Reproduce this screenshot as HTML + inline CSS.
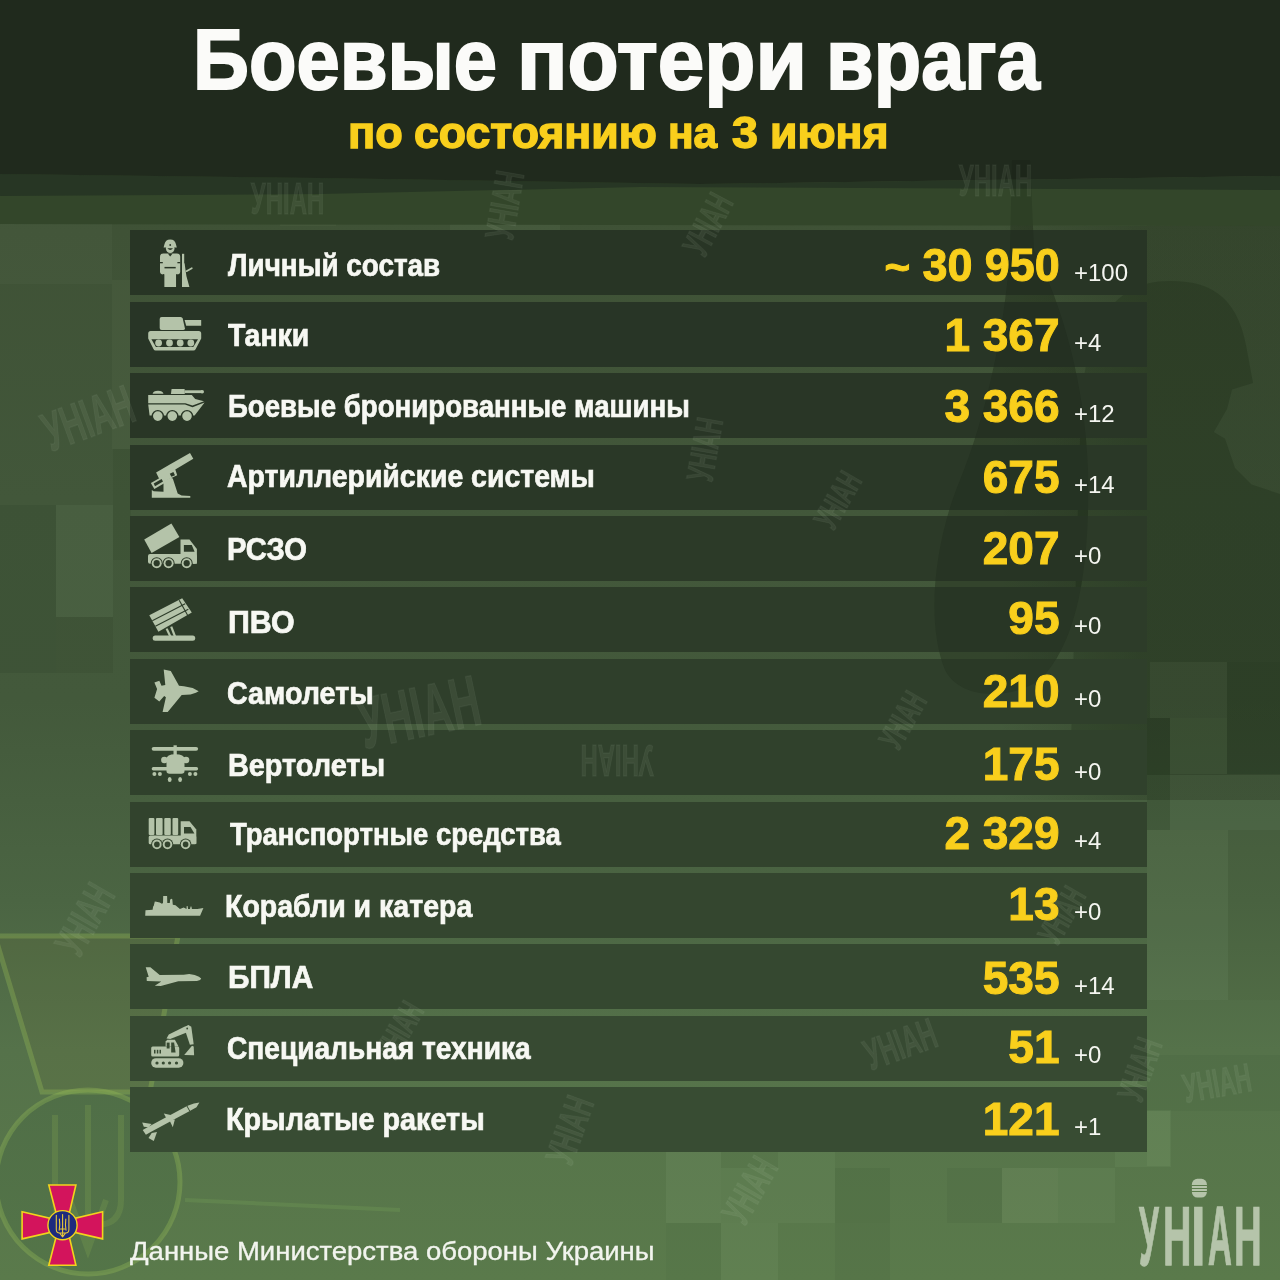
<!DOCTYPE html>
<html lang="ru"><head><meta charset="utf-8"><title>Боевые потери врага</title><style>
*{margin:0;padding:0;box-sizing:border-box}
html,body{width:1280px;height:1280px;overflow:hidden}
body{position:relative;font-family:"Liberation Sans",Arial,sans-serif;background:#4a6140;}
.abs{position:absolute}
.t{position:absolute;white-space:nowrap;line-height:1}
.lab{font-weight:bold;color:#f7f8f3;font-size:30.5px;transform-origin:0 0;-webkit-text-stroke:0.7px #f7f8f3}
.num{font-weight:bold;color:#f9cf1c;font-size:46px;transform-origin:100% 0;text-align:right;-webkit-text-stroke:1px #f9cf1c}
.del{color:#f4f5f0;font-size:24px;transform-origin:0 0}
.row{position:absolute;left:130px;width:1017px;height:65px;background:rgba(30,42,26,0.56)}
.wm{position:absolute;white-space:nowrap;line-height:1;font-weight:bold;color:rgba(220,235,210,0.07);-webkit-text-stroke:1.5px rgba(220,235,210,0.05);transform-origin:0 0}
</style></head><body>
<div class="abs" style="left:0;top:0;width:1280px;height:1280px;background:linear-gradient(to bottom,#33462c 0px,#3f5236 230px,#42573a 500px,#43593b 700px,#4b6543 900px,#55724a 1050px,#5a7a4b 1280px)"></div>
<div class="abs" style="left:1000px;top:226px;width:280px;height:574px;background:linear-gradient(to right,rgba(20,30,15,0) 0px,rgba(20,30,15,0.24) 140px,rgba(20,30,15,0.24) 280px)"></div>
<div class="abs" style="left:0px;top:505px;width:56px;height:168px;background:rgba(20,35,15,0.10)"></div>
<div class="abs" style="left:280px;top:168px;width:56px;height:58px;background:rgba(200,230,180,0.04)"></div>
<div class="abs" style="left:450px;top:160px;width:110px;height:70px;background:rgba(200,230,180,0.05)"></div>
<div class="abs" style="left:1147px;top:190px;width:133px;height:36px;background:rgba(20,30,15,0.12)"></div>
<div class="abs" style="left:56px;top:505px;width:57px;height:112px;background:rgba(200,230,180,0.05)"></div>
<div class="abs" style="left:56px;top:617px;width:57px;height:56px;background:rgba(20,35,15,0.07)"></div>
<div class="abs" style="left:113px;top:449px;width:18px;height:111px;background:rgba(20,35,15,0.08)"></div>
<div class="abs" style="left:112px;top:280px;width:18px;height:169px;background:rgba(200,230,180,0.04)"></div>
<div class="abs" style="left:0px;top:224px;width:112px;height:60px;background:rgba(200,230,180,0.03)"></div>
<div class="abs" style="left:1150px;top:662px;width:77px;height:56px;background:rgba(200,230,180,0.07)"></div>
<div class="abs" style="left:1170px;top:718px;width:57px;height:56px;background:rgba(200,230,180,0.09)"></div>
<div class="abs" style="left:1227px;top:662px;width:53px;height:112px;background:rgba(20,35,15,0.06)"></div>
<div class="abs" style="left:1147px;top:718px;width:23px;height:112px;background:rgba(20,35,15,0.12)"></div>
<div class="abs" style="left:1170px;top:774px;width:110px;height:56px;background:rgba(200,230,180,0.03)"></div>
<div class="abs" style="left:1147px;top:830px;width:81px;height:170px;background:rgba(200,230,180,0.04)"></div>
<div class="abs" style="left:1228px;top:830px;width:52px;height:170px;background:rgba(20,35,15,0.03)"></div>
<div class="abs" style="left:1147px;top:1055px;width:133px;height:56px;background:rgba(20,35,15,0.05)"></div>
<div class="abs" style="left:1147px;top:1111px;width:23px;height:55px;background:rgba(200,230,180,0.06)"></div>
<div class="abs" style="left:666px;top:1152px;width:55px;height:71px;background:rgba(200,230,180,0.07)"></div>
<div class="abs" style="left:721px;top:1168px;width:57px;height:55px;background:rgba(200,230,180,0.05)"></div>
<div class="abs" style="left:778px;top:1152px;width:57px;height:71px;background:rgba(200,230,180,0.05)"></div>
<div class="abs" style="left:835px;top:1168px;width:55px;height:55px;background:rgba(20,40,15,0.06)"></div>
<div class="abs" style="left:947px;top:1168px;width:55px;height:55px;background:rgba(20,40,15,0.05)"></div>
<div class="abs" style="left:1002px;top:1168px;width:56px;height:55px;background:rgba(200,230,180,0.08)"></div>
<div class="abs" style="left:1058px;top:1168px;width:57px;height:55px;background:rgba(200,230,180,0.05)"></div>
<div class="abs" style="left:666px;top:1223px;width:55px;height:57px;background:rgba(20,40,15,0.04)"></div>
<div class="abs" style="left:721px;top:1223px;width:57px;height:57px;background:rgba(200,230,180,0.06)"></div>
<div class="abs" style="left:835px;top:1223px;width:55px;height:57px;background:rgba(20,40,15,0.05)"></div>
<div class="abs" style="left:1115px;top:1110px;width:56px;height:57px;background:rgba(200,230,180,0.05)"></div>
<svg class="abs" style="left:0;top:0" width="1280" height="1280" viewBox="0 0 1280 1280"><path d="M1080,440 C1080,330 1110,281 1170,281 C1215,281 1240,300 1248,356 L1253,383 L1232,389.5 L1227,409 L1213.8,432 L1225,438.7 L1235,468 L1251.5,484.6 L1280,494 L1280,775 L1070,775 Z" fill="rgba(18,30,12,0.22)"/><path d="M1012,160 L1030,160 L1034,250 C1060,300 1085,380 1088,470 C1090,560 1080,640 1040,680 C1010,700 960,700 945,670 C925,620 935,540 960,480 C985,420 1005,330 1010,250 Z" fill="rgba(10,18,6,0.16)"/></svg>
<svg class="abs" style="left:0;top:0" width="400" height="1280" viewBox="0 0 400 1280"><polygon points="-5,936 178,936 150,1092 42,1092" fill="rgba(120,110,50,0.10)" stroke="rgba(160,200,90,0.30)" stroke-width="5"/><circle cx="88" cy="1182" r="92" fill="rgba(20,60,40,0.07)" stroke="rgba(160,200,90,0.30)" stroke-width="5"/><path d="M88,1105 L88,1250 M55,1115 L55,1200 Q55,1225 80,1225 L96,1225 Q121,1225 121,1200 L121,1115 M70,1200 L88,1250 L106,1200" fill="none" stroke="rgba(160,200,90,0.16)" stroke-width="6"/><path d="M185,1200 L400,1210" stroke="rgba(150,200,100,0.15)" stroke-width="4"/></svg>
<svg class="abs" style="left:0;top:0" width="1280" height="240" viewBox="0 0 1280 240"><polygon points="0,174 320,176 700,183 1280,186 1280,226 0,224" fill="#33462a"/><polygon points="0,174 320,178 700,184 1280,176 1280,190 640,187 320,194 0,196" fill="#273624"/><polygon points="0,0 1280,0 1280,176 700,184 320,178 0,174" fill="#202a1d"/></svg>
<div class="row" style="top:230.27px;background:#283525"></div>
<div class="row" style="top:301.68px;background:#283526"></div>
<div class="row" style="top:373.09px;background:#293626"></div>
<div class="row" style="top:444.50px;background:#2a3827"></div>
<div class="row" style="top:515.91px;background:#2c3a28"></div>
<div class="row" style="top:587.32px;background:#2d3c29"></div>
<div class="row" style="top:658.73px;background:#2f3f2b"></div>
<div class="row" style="top:730.14px;background:#30412c"></div>
<div class="row" style="top:801.55px;background:#32432d"></div>
<div class="row" style="top:872.96px;background:#34462f"></div>
<div class="row" style="top:944.37px;background:#354830"></div>
<div class="row" style="top:1015.78px;background:#374a32"></div>
<div class="row" style="top:1087.19px;background:#384c33"></div>
<svg class="abs" style="left:0;top:0" width="1280" height="1280" viewBox="0 0 1280 1280"><path d="M1012,160 L1030,160 L1034,250 C1060,300 1085,380 1088,470 C1090,560 1080,640 1040,680 C1010,700 960,700 945,670 C925,620 935,540 960,480 C985,420 1005,330 1010,250 Z" fill="rgba(10,18,6,0.12)"/></svg>
<div class="wm" style="left:220.7px;top:178.3px;font-size:43.5px;transform-origin:66.3px 21.7px;transform:rotate(0deg) scaleX(0.55)">УНІАН</div>
<div class="wm" style="left:443.1px;top:184.7px;font-size:40.6px;transform-origin:61.9px 20.3px;transform:rotate(-80deg) scaleX(0.55)">УНІАН</div>
<div class="wm" style="left:650.5px;top:206.2px;font-size:37.7px;transform-origin:57.5px 18.8px;transform:rotate(-62deg) scaleX(0.55)">УНІАН</div>
<div class="wm" style="left:928.7px;top:160.3px;font-size:43.5px;transform-origin:66.3px 21.7px;transform:rotate(0deg) scaleX(0.55)">УНІАН</div>
<div class="wm" style="left:4.0px;top:390.5px;font-size:55.1px;transform-origin:84.0px 27.5px;transform:rotate(-20deg) scaleX(0.55)">УНІАН</div>
<div class="wm" style="left:307.5px;top:675.8px;font-size:72.5px;transform-origin:110.5px 36.2px;transform:rotate(-12deg) scaleX(0.55)">УНІАН</div>
<div class="wm" style="left:550.7px;top:738.3px;font-size:43.5px;transform-origin:66.3px 21.7px;transform:rotate(180deg) scaleX(0.55)">УНІАН</div>
<div class="wm" style="left:647.5px;top:431.2px;font-size:37.7px;transform-origin:57.5px 18.8px;transform:rotate(-80deg) scaleX(0.55)">УНІАН</div>
<div class="wm" style="left:785.0px;top:482.6px;font-size:34.8px;transform-origin:53.0px 17.4px;transform:rotate(-60deg) scaleX(0.55)">УНІАН</div>
<div class="wm" style="left:850.0px;top:702.6px;font-size:34.8px;transform-origin:53.0px 17.4px;transform:rotate(-60deg) scaleX(0.55)">УНІАН</div>
<div class="wm" style="left:18.7px;top:898.3px;font-size:43.5px;transform-origin:66.3px 21.7px;transform:rotate(-60deg) scaleX(0.55)">УНІАН</div>
<div class="wm" style="left:1009.0px;top:897.6px;font-size:34.8px;transform-origin:53.0px 17.4px;transform:rotate(-60deg) scaleX(0.55)">УНІАН</div>
<div class="wm" style="left:1155.1px;top:1062.7px;font-size:40.6px;transform-origin:61.9px 20.3px;transform:rotate(-10deg) scaleX(0.55)">УНІАН</div>
<div class="wm" style="left:833.7px;top:1023.3px;font-size:43.5px;transform-origin:66.3px 21.7px;transform:rotate(-20deg) scaleX(0.55)">УНІАН</div>
<div class="wm" style="left:508.1px;top:1109.7px;font-size:40.6px;transform-origin:61.9px 20.3px;transform:rotate(-70deg) scaleX(0.55)">УНІАН</div>
<div class="wm" style="left:688.1px;top:1169.7px;font-size:40.6px;transform-origin:61.9px 20.3px;transform:rotate(-60deg) scaleX(0.55)">УНІАН</div>
<div class="wm" style="left:1082.5px;top:1051.2px;font-size:37.7px;transform-origin:57.5px 18.8px;transform:rotate(-70deg) scaleX(0.55)">УНІАН</div>
<div class="wm" style="left:347.0px;top:1012.6px;font-size:34.8px;transform-origin:53.0px 17.4px;transform:rotate(-60deg) scaleX(0.55)">УНІАН</div>
<div class="t lab" style="left:227.50px;top:249.68px;transform:scaleX(0.9130)">Личный состав</div>
<div class="t num" style="right:220.50px;top:242.06px;transform:scaleX(0.9755)">30 950</div>
<div class="t num" style="left:884.50px;top:245.06px;text-align:left;font-size:44px">~</div>
<div class="t del" style="left:1074px;top:261.18px">+100</div>
<div class="t lab" style="left:228.00px;top:319.68px;transform:scaleX(0.9302)">Танки</div>
<div class="t num" style="right:220.50px;top:312.06px">1 367</div>
<div class="t del" style="left:1074px;top:331.18px">+4</div>
<div class="t lab" style="left:227.69px;top:390.93px;transform:scaleX(0.9061)">Боевые бронированные машины</div>
<div class="t num" style="right:220.50px;top:382.81px">3 366</div>
<div class="t del" style="left:1074px;top:401.93px">+12</div>
<div class="t lab" style="left:226.57px;top:460.93px;transform:scaleX(0.9324)">Артиллерийские системы</div>
<div class="t num" style="right:220.50px;top:454.06px">675</div>
<div class="t del" style="left:1074px;top:473.18px">+14</div>
<div class="t lab" style="left:227.09px;top:534.43px;transform:scaleX(0.9568)">РСЗО</div>
<div class="t num" style="right:220.50px;top:525.06px">207</div>
<div class="t del" style="left:1074px;top:544.18px">+0</div>
<div class="t lab" style="left:227.51px;top:606.68px;transform:scaleX(0.9961)">ПВО</div>
<div class="t num" style="right:220.50px;top:595.06px">95</div>
<div class="t del" style="left:1074px;top:614.18px">+0</div>
<div class="t lab" style="left:226.56px;top:678.18px;transform:scaleX(0.9412)">Самолеты</div>
<div class="t num" style="right:220.50px;top:667.56px">210</div>
<div class="t del" style="left:1074px;top:686.68px">+0</div>
<div class="t lab" style="left:227.61px;top:749.93px;transform:scaleX(0.9451)">Вертолеты</div>
<div class="t num" style="right:220.50px;top:741.06px">175</div>
<div class="t del" style="left:1074px;top:760.18px">+0</div>
<div class="t lab" style="left:229.50px;top:818.68px;transform:scaleX(0.9008)">Транспортные средства</div>
<div class="t num" style="right:220.50px;top:809.81px">2 329</div>
<div class="t del" style="left:1074px;top:828.93px">+4</div>
<div class="t lab" style="left:225.13px;top:891.18px;transform:scaleX(0.9350)">Корабли и катера</div>
<div class="t num" style="right:220.50px;top:881.06px">13</div>
<div class="t del" style="left:1074px;top:900.18px">+0</div>
<div class="t lab" style="left:227.55px;top:962.18px;transform:scaleX(0.9765)">БПЛА</div>
<div class="t num" style="right:220.50px;top:954.56px">535</div>
<div class="t del" style="left:1074px;top:973.68px">+14</div>
<div class="t lab" style="left:227.33px;top:1032.93px;transform:scaleX(0.9217)">Специальная техника</div>
<div class="t num" style="right:220.50px;top:1024.06px">51</div>
<div class="t del" style="left:1074px;top:1043.18px">+0</div>
<div class="t lab" style="left:226.11px;top:1104.18px;transform:scaleX(0.9428)">Крылатые ракеты</div>
<div class="t num" style="right:220.50px;top:1096.06px">121</div>
<div class="t del" style="left:1074px;top:1115.18px">+1</div>
<div class="t" style="left:192.68px;top:15.60px;font-size:86px;font-weight:bold;-webkit-text-stroke:2.0px #fbfbf9;color:#fbfbf9;transform:scaleX(0.9042);transform-origin:0 0">Боевые</div>
<div class="t" style="left:517.13px;top:15.60px;font-size:86px;font-weight:bold;-webkit-text-stroke:2.0px #fbfbf9;color:#fbfbf9;transform:scaleX(0.9740);transform-origin:0 0">потери</div>
<div class="t" style="left:825.99px;top:15.60px;font-size:86px;font-weight:bold;-webkit-text-stroke:2.0px #fbfbf9;color:#fbfbf9;transform:scaleX(0.9026);transform-origin:0 0">врага</div>
<div class="t" style="left:347.95px;top:110.75px;font-size:44px;font-weight:bold;-webkit-text-stroke:1.4px #f9cf1c;color:#f9cf1c;transform:scaleX(1.0250);transform-origin:0 0">по</div>
<div class="t" style="left:413.99px;top:110.75px;font-size:44px;font-weight:bold;-webkit-text-stroke:1.4px #f9cf1c;color:#f9cf1c;transform:scaleX(1.0148);transform-origin:0 0">состоянию</div>
<div class="t" style="left:668.07px;top:110.75px;font-size:44px;font-weight:bold;-webkit-text-stroke:1.4px #f9cf1c;color:#f9cf1c;transform:scaleX(0.9640);transform-origin:0 0">на</div>
<div class="t" style="left:732.40px;top:110.75px;font-size:44px;font-weight:bold;-webkit-text-stroke:1.4px #f9cf1c;color:#f9cf1c;transform:scaleX(1.0583);transform-origin:0 0">3</div>
<div class="t" style="left:769.57px;top:110.75px;font-size:44px;font-weight:bold;-webkit-text-stroke:1.4px #f9cf1c;color:#f9cf1c;transform:scaleX(1.0142);transform-origin:0 0">июня</div>
<div class="t" style="left:129.50px;top:1238.19px;font-size:26.0px;-webkit-text-stroke:0.35px #f2f4ee;color:#f2f4ee;transform:scaleX(1.0574);transform-origin:0 0">Данные Министерства обороны Украины</div>
<svg class="abs" style="left:0;top:0" width="1280" height="1280" viewBox="0 0 1280 1280"><g fill="#b4c3a9">
<path d="M163.6,247.6 L164.4,244.6 Q165.2,239.4 170.2,239.4 Q175.2,239.4 176,244.6 L176.8,247.6 Z"/>
<circle cx="170.2" cy="248.6" r="4.3"/>
<rect x="160" y="253.6" width="20.2" height="20.8" rx="3.2"/>
<rect x="164.2" y="272" width="12" height="15" />
<rect x="182" y="253.8" width="2.2" height="33.2"/>
<polygon points="182,262 184.6,263.5 186.4,276 189.4,287 182,287"/>
<path d="M186.5,271.2 L191.8,268.2" stroke="#b4c3a9" stroke-width="1.7" stroke-linecap="round"/>
</g>
<g fill="#283525">
<path d="M167.4,248.2 Q170.2,251.8 173,248.2 Z"/>
<circle cx="170.2" cy="245" r="0.9"/>
<polygon points="167.8,253.6 172.6,253.6 170.2,256.4"/>
<rect x="164.5" y="266.9" width="11.2" height="1.5"/>
<rect x="160" y="262" width="2.8" height="1.3"/>
<rect x="177.4" y="262" width="2.8" height="1.3"/>
<rect x="163" y="274.2" width="1.2" height="13"/>
<rect x="176.2" y="274.2" width="1.2" height="13"/>
</g>
<g fill="#b4c3a9">
<path d="M161.6,317 L180.6,317 Q182.2,317 182.7,318.6 L184.9,328.3 Q185.2,330 183.4,330 L161.6,330 Q159.7,330 159.7,328 L159.7,319 Q159.7,317 161.6,317 Z"/>
<polygon points="184.6,320 201.2,320 201.2,325.8 186.2,325.8"/>
<path d="M150.6,331 L198.8,331 Q201.2,331 201.2,333.6 L201.2,338.6 L195.6,349.2 Q195,350.4 193.4,350.4 L155.6,350.4 Q154.2,350.4 153.6,349.2 L148.2,338.6 L148.2,333.6 Q148.2,331 150.6,331 Z"/>
</g>
<polygon points="151.4,339.3 198,339.3 193.3,347 155.9,347" fill="#283526"/>
<g fill="#b4c3a9"><circle cx="158.6" cy="343" r="3.4"/><circle cx="169.5" cy="343" r="3.4"/><circle cx="180.2" cy="343" r="3.4"/><circle cx="190.8" cy="343" r="3.4"/></g>
<g fill="#b4c3a9">
<path d="M152.6,393.8 Q153.2,390.8 158,390.8 Q162.8,390.8 163.5,393.8 Z"/>
<polygon points="171.6,389 184.6,389 184.8,394 170.9,394"/>
<rect x="184.5" y="390.3" width="17.5" height="2.8"/>
<circle cx="202.2" cy="391.7" r="1.8"/>
<polygon points="148.2,395 191.8,395 195.2,398.9 204,401.3 192.5,405.6 185.4,403.2 148.2,403.2"/>
<polygon points="148.2,404.4 185,404.4 192.5,407.2 204.6,402.6 194.6,415.6 149.6,415.6"/>
</g>
<g fill="#b4c3a9" stroke="#293626" stroke-width="1.4"><circle cx="157.8" cy="416.1" r="5.5"/><circle cx="172.3" cy="416.1" r="5.5"/><circle cx="187.0" cy="416.1" r="5.5"/></g>
<polygon points="151.8,490.1 153.7,491.2 163.5,491.7 163.5,480.8 170.6,477.8 172.8,478.6 177.7,493.4 181.6,495.6 190.3,496.1 190.3,497.8 151.8,497.8" fill="#b4c3a9"/>
<polygon points="156.1,472.6 169.8,464.4 190.0,453.0 193.3,458.7 175.3,469.6 177.2,475.3 171.4,478.1 163.5,481.4 158.9,478.3" fill="#b4c3a9"/>
<polygon points="150.9,483.0 161.9,476.7 165.2,482.7 154.3,489.0" fill="#b4c3a9"/>
<polygon points="153.7,483.5 161.6,479.1 163.0,481.6 155.0,486.3" fill="#2a3827"/>
<polygon points="169.8,473.7 173.4,472.1 175.0,475.3 171.4,476.7" fill="#2a3827"/>
<polygon points="144.2,539.4 171.4,523.5 179.4,537.1 151.6,553.0" fill="#b4c3a9"/>
<polygon points="180.5,539.4 189.5,539.4 196.9,549.0 196.9,563.7 180.5,563.7" fill="#b4c3a9"/>
<polygon points="183.9,545.0 191.8,545.0 194.6,551.8 183.9,551.8" fill="#2c3a28"/>
<rect x="148" y="554" width="48.9" height="9.7" rx="2" fill="#b4c3a9"/>
<g><circle cx="156.7" cy="563.2" r="6" fill="#2c3a28"/><circle cx="156.7" cy="563.2" r="5" fill="#b4c3a9"/><circle cx="156.7" cy="563.2" r="3.1" fill="#2c3a28"/><circle cx="168.6" cy="563.2" r="6" fill="#2c3a28"/><circle cx="168.6" cy="563.2" r="5" fill="#b4c3a9"/><circle cx="168.6" cy="563.2" r="3.1" fill="#2c3a28"/><circle cx="186.7" cy="563.2" r="6" fill="#2c3a28"/><circle cx="186.7" cy="563.2" r="5" fill="#b4c3a9"/><circle cx="186.7" cy="563.2" r="3.1" fill="#2c3a28"/></g>
<polygon points="149.3,615.3 182.2,598.3 191.8,612.4 158.4,631.7" fill="#b4c3a9"/>
<g stroke="#2d3c29" stroke-width="1.1" fill="none">
<line x1="152.3" y1="620.8" x2="185.2" y2="603.8"/><line x1="155.4" y1="626.2" x2="188.3" y2="609.2"/><line x1="179.2" y1="600.2" x2="188.6" y2="617"/>
</g>
<g stroke="#b4c3a9" stroke-width="2.2"><line x1="166.6" y1="628.6" x2="170.6" y2="637"/><line x1="171.2" y1="626.6" x2="175.2" y2="637"/></g>
<rect x="152.7" y="635.6" width="42.5" height="5.1" rx="2.5" fill="#b4c3a9"/>
<polygon points="198.7,691.2 192.7,687.9 183.9,686.2 179.0,685.7 170.8,670.9 163.7,669.6 165.3,685.1 161.5,685.7 159.3,680.8 154.4,682.4 157.1,689.0 154.4,697.7 159.3,701.5 164.2,696.1 165.9,697.2 162.6,711.9 167.7,711.9 181.7,695.0 190.5,694.4 195.9,692.8" fill="#b4c3a9"/>
<g fill="#b4c3a9">
<rect x="151.7" y="746.9" width="46.4" height="3.8" rx="1.9"/>
<rect x="173.5" y="745.3" width="3.3" height="10"/>
<path d="M166.5,771 L166.5,759 Q166.5,754.2 175.2,754.2 Q184.5,754.2 184.5,759 L184.5,771 Q184.5,773.8 181.5,773.8 L169.5,773.8 Q166.5,773.8 166.5,771 Z"/>
<circle cx="164.4" cy="760" r="3.3"/><circle cx="186" cy="760" r="3.3"/>
<rect x="151.7" y="767.1" width="46.4" height="3.3" rx="1.6"/>
<circle cx="154.4" cy="774" r="2"/><circle cx="159.9" cy="774" r="2"/><circle cx="189.9" cy="774" r="2"/><circle cx="195.4" cy="774" r="2"/>
<ellipse cx="169.7" cy="779.4" rx="1.9" ry="2.5"/><ellipse cx="180.1" cy="779.4" rx="1.9" ry="2.5"/>
</g>
<g fill="#b4c3a9">
<rect x="148.7" y="818" width="5.7" height="17" rx="1"/>
<rect x="156.0" y="818" width="6.6" height="17" rx="1"/>
<rect x="164.3" y="818" width="6.5" height="17" rx="1"/>
<rect x="172.5" y="818" width="5.7" height="17" rx="1"/>
<rect x="148.7" y="835.6" width="47.6" height="8.7" rx="1.5"/>
<polygon points="180.7,821.3 189.5,821.3 196.3,829.5 196.3,844 180.7,844"/>
</g>
<polygon points="184,827 190.5,827 194.4,833.4 184,833.4" fill="#32432d"/>
<circle cx="156.9" cy="844.4" r="5.8" fill="#32432d"/><circle cx="156.9" cy="844.4" r="4.8" fill="#b4c3a9"/><circle cx="156.9" cy="844.4" r="2.8" fill="#32432d"/><circle cx="167.5" cy="844.4" r="5.8" fill="#32432d"/><circle cx="167.5" cy="844.4" r="4.8" fill="#b4c3a9"/><circle cx="167.5" cy="844.4" r="2.8" fill="#32432d"/><circle cx="185.6" cy="844.4" r="5.8" fill="#32432d"/><circle cx="185.6" cy="844.4" r="4.8" fill="#b4c3a9"/><circle cx="185.6" cy="844.4" r="2.8" fill="#32432d"/>
<polygon points="145.2,915.7 200.1,915.7 203.4,908.0 197.4,908.9 191.9,909.1 191.4,906.4 190.6,906.4 190.0,908.9 188.1,909.1 187.6,905.9 186.7,905.9 186.5,908.9 183.7,907.5 179.9,908.9 175.5,905.3 172.8,904.8 172.3,899.3 171.2,898.7 170.1,899.8 169.8,903.1 167.3,903.1 167.1,896.0 163.2,896.0 163.0,903.1 161.9,903.7 159.7,902.6 156.4,901.8 154.8,901.5 153.7,905.9 153.1,906.4 152.6,909.7 145.5,910.2" fill="#b4c3a9"/>
<polygon points="145.7,967.2 150.4,967.2 159.7,975.1 183.7,974.8 189.2,974.0 194.7,975.1 199.0,976.8 201.2,978.4 200.1,980.0 196.9,980.9 178.3,981.2 160.8,986.1 154.8,985.8 161.3,981.4 146.8,980.9 146.6,977.3 148.7,976.8" fill="#b4c3a9"/>
<rect x="151.2" y="1058.2" width="32.2" height="9.5" rx="4.7" fill="#b4c3a9"/>
<circle cx="157.0" cy="1063.0" r="1.6" fill="#374a32"/><circle cx="163.3" cy="1063.0" r="1.6" fill="#374a32"/><circle cx="169.6" cy="1063.0" r="1.6" fill="#374a32"/><circle cx="176.5" cy="1063.0" r="1.6" fill="#374a32"/>
<rect x="151.2" y="1046.6" width="28.0" height="10.0" rx="1.5" fill="#b4c3a9"/>
<polygon points="165.6,1046.6 165.6,1041.4 167.3,1039.8 174.9,1039.8 178.6,1046.6" fill="#b4c3a9"/>
<rect x="154.0" y="1049.8" width="1.5" height="3.7" rx="0.0" fill="#374a32"/><rect x="156.8" y="1049.8" width="1.5" height="3.7" rx="0.0" fill="#374a32"/><rect x="159.5" y="1049.8" width="1.5" height="3.7" rx="0.0" fill="#374a32"/>
<polygon points="171.2,1042.6 174.1,1042.6 175.6,1052.4 171.2,1052.4" fill="#374a32"/>
<polygon points="166.7,1042.6 169.6,1042.6 169.6,1048.5 166.7,1048.5" fill="#374a32"/>
<polygon points="166.5,1038.4 168.8,1034.5 184.4,1026.8 188.4,1025.3 188.6,1031.7 170.2,1039.1" fill="#b4c3a9"/>
<polygon points="184.4,1028.2 188.4,1025.0 191.3,1026.8 193.7,1044.3 189.9,1044.7" fill="#b4c3a9"/>
<circle cx="187.2" cy="1028.5" r="0.9" fill="#374a32"/>
<polygon points="184.2,1054.9 192.0,1045.8 193.7,1046.6 194.1,1055.3" fill="#b4c3a9"/>
<polygon points="142.7,1130.0 147.5,1127.3 187.6,1105.7 193.9,1103.4 199.4,1102.6 196.5,1107.3 190.7,1110.5 150.7,1132.1 145.9,1134.7" fill="#b4c3a9"/>
<polygon points="142.2,1122.6 151.7,1123.9 148.5,1127.3 143.8,1126.8" fill="#b4c3a9"/>
<polygon points="148.5,1137.9 153.8,1141.1 157.0,1132.1 151.7,1133.1" fill="#b4c3a9"/>
<polygon points="163.8,1113.6 171.8,1115.2 172.8,1118.9 167.0,1119.4" fill="#b4c3a9"/>
<polygon points="169.6,1120.5 172.8,1127.3 174.9,1119.4" fill="#b4c3a9"/>
<line x1="186.5" y1="1105.2" x2="189.7" y2="1111.0" stroke="#384c33" stroke-width="1"/></svg>
<svg class="abs" style="left:0;top:0" width="130" height="1280" viewBox="0 0 130 1280"><g stroke="#f2d31c" stroke-width="1.6" stroke-linejoin="miter" fill="#d3145c"><polygon points="48.8,1185 75.9,1185 69.6,1212 55.8,1212"/><polygon points="48.8,1265.2 75.9,1265.2 69.6,1238 55.8,1238"/><polygon points="22.1,1211.8 22.1,1238.9 49.5,1232.5 49.5,1218.2"/><polygon points="102.6,1211.8 102.6,1238.9 75.5,1232.5 75.5,1218.2"/></g><circle cx="62.5" cy="1225.2" r="14.6" fill="#1d2a7e" stroke="#f2d31c" stroke-width="1.4"/><g fill="none" stroke="#e8c83a" stroke-width="1.1" stroke-linecap="round" stroke-linejoin="round"><path d="M62.6,1214.6 L62.6,1236.6 M56.3,1215.4 L56.3,1229.6 Q56.3,1233 59.6,1233 L65.6,1233 Q68.9,1233 68.9,1229.6 L68.9,1215.4 M59.4,1219 Q60.2,1226 59.2,1230.2 M65.8,1219 Q65,1226 66,1230.2 M59.6,1233 L62.6,1236.8 L65.6,1233 M60.4,1229 L64.8,1229"/></g></svg>
<svg class="abs" style="left:0;top:0" width="1280" height="1280" viewBox="0 0 1280 1280"><rect x="1191.9" y="1178.8" width="15" height="18.7" rx="5.5" fill="#b5c4aa"/><g stroke="#5b7b4b" stroke-width="1"><line x1="1191" y1="1185.5" x2="1208" y2="1185.5"/><line x1="1191" y1="1188.5" x2="1208" y2="1188.5"/><line x1="1191" y1="1191.5" x2="1208" y2="1191.5"/></g></svg>
<span class="t" style="left:1138.75px;top:1193.89px;font-size:84px;color:#b5c4aa;font-weight:bold;-webkit-text-stroke:1.3px #b5c4aa;transform:scaleX(0.377);transform-origin:0 0">У</span>
<span class="t" style="left:1163.18px;top:1193.89px;font-size:84px;color:#b5c4aa;font-weight:bold;-webkit-text-stroke:1.3px #b5c4aa;transform:scaleX(0.469);transform-origin:0 0">Н</span>
<span class="t" style="left:1191.25px;top:1193.89px;font-size:84px;color:#b5c4aa;font-weight:bold;-webkit-text-stroke:1.3px #b5c4aa;transform:scaleX(0.625);transform-origin:0 0">І</span>
<span class="t" style="left:1208.21px;top:1193.89px;font-size:84px;color:#b5c4aa;font-weight:bold;-webkit-text-stroke:1.3px #b5c4aa;transform:scaleX(0.393);transform-origin:0 0">А</span>
<span class="t" style="left:1234.26px;top:1193.89px;font-size:84px;color:#b5c4aa;font-weight:bold;-webkit-text-stroke:1.3px #b5c4aa;transform:scaleX(0.457);transform-origin:0 0">Н</span>
</body></html>
